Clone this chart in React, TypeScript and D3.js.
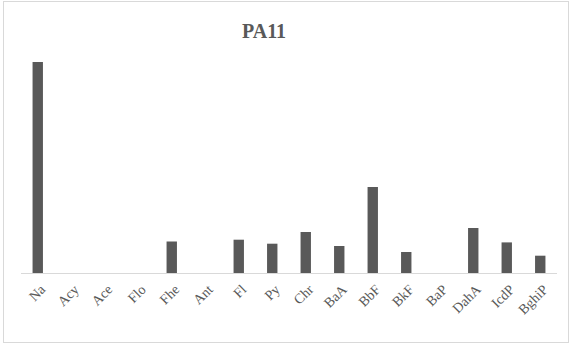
import * as d3 from "d3";

const categories = ["Na", "Acy", "Ace", "Flo", "Fhe", "Ant", "Fl", "Py", "Chr", "BaA", "BbF", "BkF", "BaP", "DahA", "IcdP", "BghiP"];
const values = [211, 0, 0, 0, 31.5, 0, 33.3, 29.3, 41, 27, 86, 21, 0, 45, 30.6, 17.3];
const title = "PA11";

const W = 571;
const H = 347;
const plot = { left: 21, right: 557, top: 62, bottom: 273 };
const serif = "'Liberation Serif', 'Times New Roman', serif";

export default function App() {
  const x = d3.scaleBand<string>().domain(categories).range([plot.left, plot.right]).paddingInner(0.69).paddingOuter(0.345);
  const y = d3.scaleLinear().domain([0, d3.max(values) ?? 1]).range([plot.bottom, plot.top]);

  return (
    <svg width={W} height={H} style={{ position: "absolute", left: 0, top: 0, background: "#fff", fontFamily: serif }}>
      <rect x={3.5} y={1.5} width={565} height={341} fill="none" stroke="#d9d9d9" />
      <text x={264} y={38} textAnchor="middle" fontSize={20} fontWeight={700} fill="#595959">
        {title}
      </text>
      {categories.map((c, i) => (
        <rect key={c} x={x(c)} y={y(values[i])} width={x.bandwidth()} height={plot.bottom - y(values[i])} fill="#595959" />
      ))}
      <line x1={plot.left} x2={plot.right} y1={plot.bottom + 0.5} y2={plot.bottom + 0.5} stroke="#d9d9d9" />
      {categories.map((c) => {
        const cx = (x(c) ?? 0) + x.bandwidth() / 2;
        return (
          <text
            key={c}
            transform={`translate(${cx + 5},${plot.bottom + 14}) rotate(-45)`}
            dy="0.35em"
            textAnchor="end"
            fontSize={14}
            fill="#595959"
          >
            {c}
          </text>
        );
      })}
    </svg>
  );
}
